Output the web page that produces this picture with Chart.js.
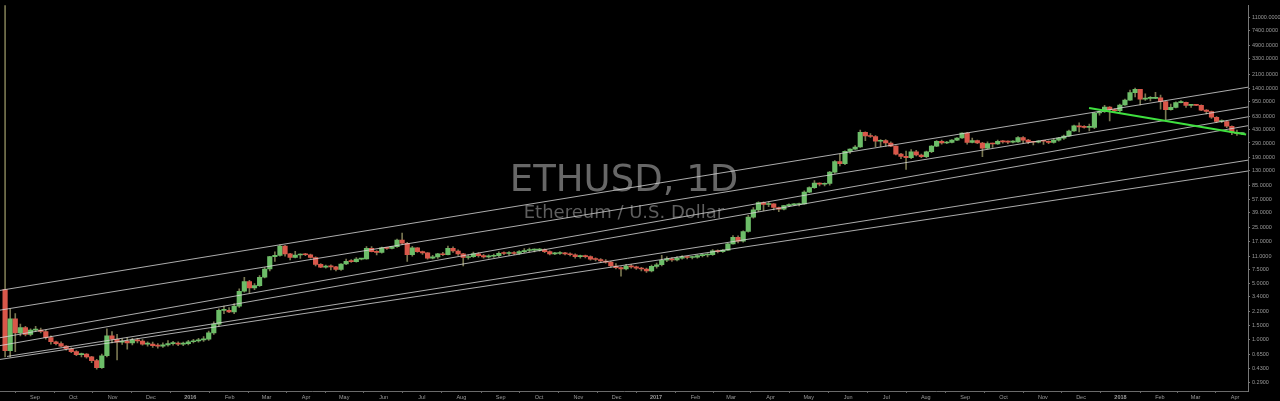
<!DOCTYPE html>
<html lang="en">
<head>
<meta charset="UTF-8">
<title>ETHUSD, 1D</title>
<script src="https://cdn.jsdelivr.net/npm/chart.js@4"></script>
<style>
  html, body { margin: 0; padding: 0; background: #000; }
  canvas { display: block; }
</style>
</head>
<body>
<canvas id="chart" width="1280" height="401"></canvas>
<script>
// candles of 4 days each, the first one starts on 7 Aug 2015 (day 0 = 1 Sep 2015)
const firstDay = -25;
const candleDays = 4;

const opens = [
  4.2, 0.72, 1.8, 1.2, 1.4, 1.15, 1.3, 1.3, 1.25, 1.05,
  0.93, 0.88, 0.82, 0.76, 0.7, 0.64, 0.65, 0.6, 0.54, 0.44,
  0.62, 1.1, 1.0, 0.92, 0.95, 0.9, 0.98, 0.95, 0.87, 0.87,
  0.83, 0.82, 0.85, 0.88, 0.89, 0.87, 0.88, 0.93, 0.95, 0.98,
  1.0, 1.2, 1.55, 2.3, 2.3, 2.2, 2.6, 4.0, 5.3, 4.4,
  4.7, 6.0, 7.6, 10.9, 11.3, 14.8, 11.8, 10.6, 11.4, 11.6,
  11.5, 10.6, 8.7, 8.0, 8.3, 8.1, 7.5, 8.8, 9.5, 9.4,
  10.1, 10.2, 13.8, 12.6, 12.3, 14.0, 13.8, 14.5, 17.6, 16.0,
  11.5, 14.0, 12.6, 12.1, 10.4, 10.8, 11.8, 11.5, 13.8, 12.8,
  11.8, 10.6, 10.9, 11.8, 11.2, 10.8, 11.0, 11.2, 12.0, 11.9,
  12.0, 11.9, 12.6, 13.0, 13.1, 13.1, 13.3, 12.6, 11.8, 11.9,
  12.0, 11.8, 11.5, 10.9, 11.0, 10.9, 10.1, 10.0, 9.6, 9.3,
  8.3, 7.9, 7.6, 8.3, 8.1, 7.8, 7.6, 7.2, 8.2, 8.6,
  9.8, 10.2, 9.9, 10.4, 10.8, 10.6, 10.7, 11.2, 11.4, 11.5,
  12.9, 12.6, 13.1, 15.7, 19.0, 17.0, 22.5, 34, 42, 52,
  49, 50, 45, 43, 47.5, 48.5, 49, 50, 70, 80,
  91, 88, 90, 125, 170, 160, 228, 243, 258, 395,
  355, 350, 305, 312, 290, 265, 210, 197, 190, 225,
  205, 195, 225, 265, 305, 290, 295, 315, 335, 385,
  295, 310, 290, 250, 285, 282, 305, 300, 298, 300,
  338, 315, 298, 296, 306, 305, 295, 315, 333, 355,
  410, 475, 460, 455, 455, 690, 715, 820, 760, 740,
  870, 1000, 1240, 1370, 1030, 1050, 1050, 1070, 960, 760,
  810, 930, 940, 860, 870, 860, 750, 720, 610, 540,
  540, 470, 395, 380
];
const highs = [
  99999, 2.4, 2.1, 1.55, 1.45, 1.35, 1.45, 1.38, 1.3, 1.1,
  0.95, 0.93, 0.83, 0.78, 0.72, 0.67, 0.66, 0.61, 0.56, 0.65,
  1.35, 1.25, 1.15, 1.02, 1.05, 1.03, 1.03, 0.99, 0.93, 0.92,
  0.88, 0.9, 0.96, 0.94, 0.93, 0.92, 0.97, 1.0, 1.03, 1.08,
  1.27, 1.65, 2.4, 2.6, 2.5, 2.8, 4.3, 6.0, 5.5, 5.0,
  6.3, 7.9, 11.0, 12.5, 15.3, 15.1, 12.0, 12.7, 11.8, 12.0,
  11.7, 10.8, 8.9, 8.5, 8.6, 8.2, 8.9, 10.1, 10.0, 10.6,
  10.3, 14.5, 14.5, 13.0, 14.3, 14.2, 14.6, 18.0, 21.5, 16.5,
  14.6, 14.1, 12.8, 12.2, 11.3, 12.0, 12.3, 14.8, 14.4, 13.2,
  12.0, 11.5, 12.4, 12.2, 11.6, 11.5, 11.7, 12.5, 12.5, 12.6,
  12.6, 13.0, 13.7, 13.9, 13.6, 13.8, 13.6, 12.9, 12.3, 12.6,
  12.3, 12.1, 11.8, 11.4, 11.4, 11.1, 10.5, 10.3, 10.0, 9.5,
  8.9, 8.1, 8.7, 8.7, 8.3, 8.0, 7.8, 8.5, 9.0, 11.3,
  10.8, 10.6, 10.9, 11.2, 11.0, 11.0, 11.5, 11.7, 11.9, 13.3,
  13.2, 13.3, 16.0, 20.0, 19.8, 23.0, 36, 45, 53, 53,
  53, 50.5, 45.5, 48, 50, 50.5, 51, 73, 82, 98,
  92, 92, 128, 175, 210, 232, 245, 270, 420, 400,
  380, 360, 320, 320, 300, 268, 215, 230, 240, 235,
  210, 230, 270, 310, 315, 305, 320, 340, 390, 395,
  335, 315, 295, 300, 290, 315, 312, 308, 312, 350,
  348, 322, 302, 312, 312, 308, 328, 338, 365, 420,
  485, 520, 480, 500, 700, 730, 860, 830, 780, 890,
  1030, 1340, 1420, 1370, 1200, 1110, 1250, 1160, 970, 890,
  950, 985, 945, 880, 880, 875, 760, 730, 620, 565,
  550, 475, 420, 390
];
const lows = [
  0.6, 0.6, 0.7, 1.1, 1.1, 1.1, 1.25, 1.2, 1.0, 0.87,
  0.85, 0.8, 0.73, 0.68, 0.62, 0.6, 0.58, 0.51, 0.42, 0.43,
  0.6, 0.9, 0.55, 0.86, 0.75, 0.85, 0.9, 0.84, 0.82, 0.79,
  0.77, 0.79, 0.82, 0.84, 0.83, 0.83, 0.85, 0.9, 0.92, 0.94,
  0.97, 1.15, 1.45, 2.1, 2.15, 2.1, 2.5, 3.9, 3.8, 4.2,
  4.6, 5.9, 7.2, 9.5, 11.0, 11.0, 9.9, 10.5, 10.3, 11.2,
  10.4, 8.3, 7.9, 7.8, 7.4, 7.2, 7.3, 8.6, 9.2, 9.3,
  9.9, 10.1, 12.5, 11.4, 12.0, 13.4, 13.6, 14.2, 15.5, 9.5,
  11.0, 12.3, 11.6, 10.1, 10.2, 10.3, 11.2, 11.4, 12.3, 11.3,
  8.3, 10.1, 10.6, 10.7, 10.4, 10.4, 10.6, 10.9, 11.5, 11.3,
  11.5, 11.6, 12.2, 12.5, 12.5, 12.7, 12.2, 11.4, 11.5, 11.6,
  11.4, 11.1, 10.4, 10.4, 10.5, 9.8, 9.6, 9.2, 9.0, 8.0,
  7.6, 6.2, 7.4, 7.8, 7.5, 7.2, 6.9, 7.0, 7.8, 8.3,
  9.4, 9.5, 9.6, 10.1, 10.2, 10.2, 10.4, 10.8, 10.8, 11.3,
  12.1, 12.3, 13.0, 15.6, 16.2, 16.5, 22, 33, 40, 41,
  46, 42, 40, 42, 46, 47.5, 47, 49.5, 69, 78,
  84, 84, 86, 120, 150, 155, 215, 240, 255, 310,
  340, 260, 260, 265, 260, 205, 185, 135, 185, 200,
  190, 190, 220, 260, 280, 285, 290, 310, 330, 280,
  290, 285, 195, 245, 255, 278, 288, 285, 290, 295,
  290, 285, 275, 290, 278, 285, 288, 305, 322, 350,
  405, 400, 445, 410, 440, 650, 700, 550, 700, 700,
  860, 990, 1100, 870, 990, 980, 1040, 770, 570, 750,
  800, 920, 810, 810, 850, 740, 670, 590, 520, 520,
  450, 370, 360, 370
];
const closes = [
  0.72, 1.8, 1.2, 1.4, 1.15, 1.3, 1.3, 1.25, 1.05, 0.93,
  0.88, 0.82, 0.76, 0.7, 0.64, 0.65, 0.6, 0.54, 0.44, 0.62,
  1.1, 1.0, 0.92, 0.95, 0.9, 0.98, 0.95, 0.87, 0.87, 0.83,
  0.82, 0.85, 0.88, 0.89, 0.87, 0.88, 0.93, 0.95, 0.98, 1.0,
  1.2, 1.55, 2.3, 2.3, 2.2, 2.6, 4.0, 5.3, 4.4, 4.7,
  6.0, 7.6, 10.9, 11.3, 14.8, 11.8, 10.6, 11.4, 11.6, 11.5,
  10.6, 8.7, 8.0, 8.3, 8.1, 7.5, 8.8, 9.5, 9.4, 10.1,
  10.2, 13.8, 12.6, 12.3, 14.0, 13.8, 14.5, 17.6, 16.0, 11.5,
  14.0, 12.6, 12.1, 10.4, 10.8, 11.8, 11.5, 13.8, 12.8, 11.8,
  10.6, 10.9, 11.8, 11.2, 10.8, 11.0, 11.2, 12.0, 11.9, 12.0,
  11.9, 12.6, 13.0, 13.1, 13.1, 13.3, 12.6, 11.8, 11.9, 12.0,
  11.8, 11.5, 10.9, 11.0, 10.9, 10.1, 10.0, 9.6, 9.3, 8.3,
  7.9, 7.6, 8.3, 8.1, 7.8, 7.6, 7.2, 8.2, 8.6, 9.8,
  10.2, 9.9, 10.4, 10.8, 10.6, 10.7, 11.2, 11.4, 11.5, 12.9,
  12.6, 13.1, 15.7, 19.0, 17.0, 22.5, 34, 42, 52, 49,
  50, 45, 43, 47.5, 48.5, 49, 50, 70, 80, 91,
  88, 90, 125, 170, 160, 228, 243, 258, 395, 355,
  350, 305, 312, 290, 265, 210, 197, 190, 225, 205,
  195, 225, 265, 305, 290, 295, 315, 335, 385, 295,
  310, 290, 250, 285, 282, 305, 300, 298, 300, 338,
  315, 298, 296, 306, 305, 295, 315, 333, 355, 410,
  475, 460, 455, 455, 690, 715, 820, 760, 740, 870,
  1000, 1240, 1370, 1030, 1050, 1050, 1070, 960, 760, 810,
  930, 940, 860, 870, 860, 750, 720, 610, 540, 540,
  470, 395, 380, 385
];

// drawn trend lines: [day, price, day, price]
const trendLines = [
  [-27.5, 4.10, 953.2, 1454],
  [-27.5, 2.32, 953.2, 822],
  [-27.5, 1.045, 953.2, 618],
  [-27.5, 0.832, 953.2, 478],
  [-22, 0.608, 953.2, 176.6],
  [-27.5, 0.558, 953.2, 129]
];
const greenLine = [828.3, 799, 951.7, 370];

const monthLabels = ['Sep', 'Oct', 'Nov', 'Dec', '2016', 'Feb', 'Mar', 'Apr', 'May', 'Jun', 'Jul', 'Aug',
  'Sep', 'Oct', 'Nov', 'Dec', '2017', 'Feb', 'Mar', 'Apr', 'May', 'Jun', 'Jul', 'Aug',
  'Sep', 'Oct', 'Nov', 'Dec', '2018', 'Feb', 'Mar', 'Apr'];
const priceTicks = [11000, 7400, 4900, 3300, 2100, 1400, 950, 630, 430, 290, 190, 130, 85, 57, 39,
  25, 17, 11, 7.5, 5, 3.4, 2.2, 1.5, 1, 0.65, 0.43, 0.29];

const UP = '#6cbd68';
const DOWN = '#d9574a';
const WICK = '#787650';

const base = Date.UTC(2015, 8, 1);
const monthDays = monthLabels.map((_, k) => (Date.UTC(2015, 8 + k, 1) - base) / 864e5);
const xs = closes.map((_, i) => firstDay + i * candleDays + 1.5);

const wickData = xs.map((x, i) => ({ x: x, y: [lows[i], highs[i]] }));
const bodyData = xs.map((x, i) => ({ x: x, y: [opens[i], closes[i]] }));
const bodyColors = closes.map((c, i) => c >= opens[i] ? UP : DOWN);

const lineSets = trendLines.map(l => ({
  type: 'line',
  data: [{ x: l[0], y: l[1] }, { x: l[2], y: l[3] }],
  borderColor: 'rgba(215,215,215,0.8)',
  borderWidth: 1,
  pointRadius: 0,
  order: 1
}));

const watermark = {
  id: 'watermark',
  beforeDraw(chart) {
    const ctx = chart.ctx;
    ctx.save();
    ctx.fillStyle = '#000';
    ctx.fillRect(0, 0, chart.width, chart.height);
    ctx.restore();
  },
  beforeDatasetsDraw(chart) {
    const { ctx, chartArea } = chart;
    const cx = (chartArea.left + chartArea.right) / 2;
    ctx.save();
    ctx.textAlign = 'center';
    ctx.textBaseline = 'alphabetic';
    ctx.fillStyle = '#676767';
    ctx.font = '37px "DejaVu Sans"';
    ctx.fillText('ETHUSD, 1D', cx, 190.5);
    ctx.fillStyle = '#5e5e5e';
    ctx.font = '18px "DejaVu Sans"';
    ctx.fillText('Ethereum / U.S. Dollar', cx, 218);
    ctx.restore();
  }
};

new Chart(document.getElementById('chart'), {
  data: {
    datasets: [
      ...lineSets,
      {
        type: 'line',
        data: [{ x: greenLine[0], y: greenLine[1] }, { x: greenLine[2], y: greenLine[3] }],
        borderColor: '#3fe03f',
        borderWidth: 2,
        pointRadius: 0,
        order: 0
      },
      {
        type: 'bar',
        data: bodyData,
        backgroundColor: bodyColors,
        barThickness: 4.5,
        minBarLength: 1,
        grouped: false,
        order: 2
      },
      {
        type: 'bar',
        data: wickData,
        backgroundColor: WICK,
        barThickness: 1,
        grouped: false,
        order: 3
      }
    ]
  },
  options: {
    responsive: false,
    devicePixelRatio: 1,
    animation: false,
    layout: { padding: 0 },
    plugins: { legend: { display: false }, tooltip: { enabled: false } },
    scales: {
      x: {
        type: 'linear',
        min: -27.5,
        max: 953.2,
        offset: false,
        afterBuildTicks: s => { s.ticks = monthDays.map(v => ({ value: v })); },
        afterFit: s => { s.height = 10; },
        grid: { drawOnChartArea: false, drawTicks: true, tickLength: 2, color: '#666' },
        border: { display: true, color: '#6a6a6a' },
        ticks: {
          autoSkip: false,
          maxRotation: 0,
          padding: 1,
          color: '#9a9a9a',
          font: ctx => ({ family: 'Liberation Sans', size: 5.5,
            weight: /^\d{4}$/.test(monthLabels[ctx.index]) ? 'bold' : 'normal' }),
          callback: (v, i) => monthLabels[i]
        }
      },
      y: {
        type: 'logarithmic',
        position: 'right',
        min: 0.2242,
        max: 15488,
        afterBuildTicks: s => { s.ticks = priceTicks.map(v => ({ value: v })); },
        afterFit: s => { s.width = 32; },
        grid: { drawOnChartArea: false, drawTicks: true, tickLength: 2, color: '#777' },
        border: { display: true, color: '#777' },
        ticks: {
          autoSkip: false,
          padding: 2,
          color: '#9a9a9a',
          font: { family: 'Liberation Sans', size: 5.5 },
          callback: v => Number(v).toFixed(4)
        }
      }
    }
  },
  plugins: [watermark]
});
</script>
</body>
</html>
